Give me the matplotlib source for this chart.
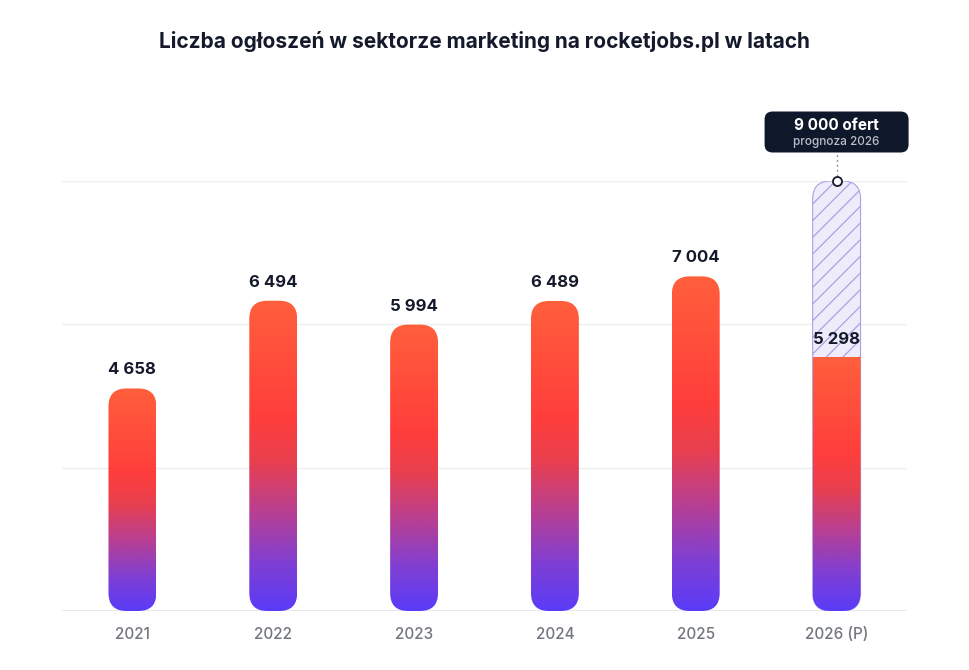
import numpy as np
import matplotlib
matplotlib.use('Agg')
import matplotlib.pyplot as plt
from matplotlib.patches import FancyBboxPatch
from matplotlib.colors import LinearSegmentedColormap

plt.rcParams['font.family'] = ['Inter', 'DejaVu Sans']

# Dane
lata = ['2021', '2022', '2023', '2024', '2025', '2026 (P)']
wartosci = [4658, 6494, 5994, 6489, 7004, 5298]
prognoza_2026 = 9000
etykiety = ['4 658', '6 494', '5 994', '6 489', '7 004', '5 298']
tytul = 'Liczba ogłoszeń w sektorze marketing na rocketjobs.pl w latach'

DARK = '#141a2b'
GREY = '#72767f'

grad = LinearSegmentedColormap.from_list('rj', [
    (0.00, '#5a3cf8'), (0.15, '#7f3fd4'), (0.32, '#b93f92'),
    (0.48, '#e8404f'), (0.62, '#ff3e3c'), (1.00, '#ff5f3b')])

fig = plt.figure(figsize=(9.69, 6.70), dpi=100)
ax = fig.add_axes([62 / 969, 59 / 670, 845 / 969, 430 / 670])
ax.set_xlim(-0.5, 5.5)
ax.set_ylim(0, 9000)
ax.axis('off')

# siatka
for g in [3000, 6000, 9000]:
    ax.axhline(g, color='#efeff1', lw=1, zorder=0)
ax.axhline(0, color='#e4e4e8', lw=1.2, zorder=0)

# piksele na jednostke
sx = 845 / 6
sy = 430 / 9000
aspect = sx / sy
szer = 0.34
r = 18 / sx

gradient = np.linspace(0, 1, 256).reshape(-1, 1)
plt.rcParams['hatch.linewidth'] = 0.9

x = np.arange(len(lata))
for i, (xi, v) in enumerate(zip(x, wartosci)):
    top = prognoza_2026 if i == len(lata) - 1 else v
    patch = FancyBboxPatch((xi - szer / 2, 0), szer, top,
                           boxstyle=f'round,pad=0,rounding_size={r}',
                           mutation_aspect=aspect, lw=0,
                           facecolor='none', zorder=2)
    if i == len(lata) - 1:
        hatch = FancyBboxPatch((xi - szer / 2, 0), szer, top,
                               boxstyle=f'round,pad=0,rounding_size={r}',
                               mutation_aspect=aspect, lw=0.8,
                               facecolor='#eeecfb', edgecolor='#a9a2e2',
                               hatch='//', zorder=1.5)
        ax.add_patch(hatch)
    ax.add_patch(patch)
    im = ax.imshow(gradient, cmap=grad, origin='lower', aspect='auto',
                   extent=(xi - szer / 2, xi + szer / 2, 0, v), zorder=2)
    im.set_clip_path(patch)
    ax.text(xi, v + 230, etykiety[i], ha='center', va='bottom',
            fontsize=12, fontweight='bold', color=DARK, zorder=4)
    ax.text(xi, -330, lata[i], ha='center', va='top', fontsize=11,
            fontweight='medium', color=GREY)

ax.set_xlim(-0.5, 5.5)
ax.set_ylim(0, 9000)

# prognoza 2026
xp = x[-1]
box_w, box_h = 144 / sx, 41 / sy
box_cy = 479 / sy
ax.plot([xp, xp], [prognoza_2026, box_cy - box_h / 2], ls=(0, (1.5, 2)),
        color='#9a9aa2', lw=1, clip_on=False, zorder=3)
ax.plot(xp, prognoza_2026, 'o', ms=6.5, mfc='white', mec=DARK, mew=1.3,
        clip_on=False, zorder=5)
box = FancyBboxPatch((xp - box_w / 2, box_cy - box_h / 2), box_w, box_h,
                     boxstyle=f'round,pad=0,rounding_size={8 / sx}',
                     mutation_aspect=aspect, fc='#0f172a', ec='none',
                     clip_on=False, zorder=6)
ax.add_patch(box)
ax.text(xp, box_cy + 7 / sy, '9 000 ofert', ha='center', va='center',
        fontsize=11, fontweight='bold', color='white', zorder=7)
ax.text(xp, box_cy - 10 / sy, 'prognoza 2026', ha='center', va='center',
        fontsize=8.5, fontweight='medium', color='#b9bdc7', zorder=7)

fig.text(0.5, 1 - 42 / 670, tytul, ha='center', va='center',
         fontsize=15, fontweight='bold', color=DARK)

plt.savefig('out.png', dpi=100, facecolor='white')
